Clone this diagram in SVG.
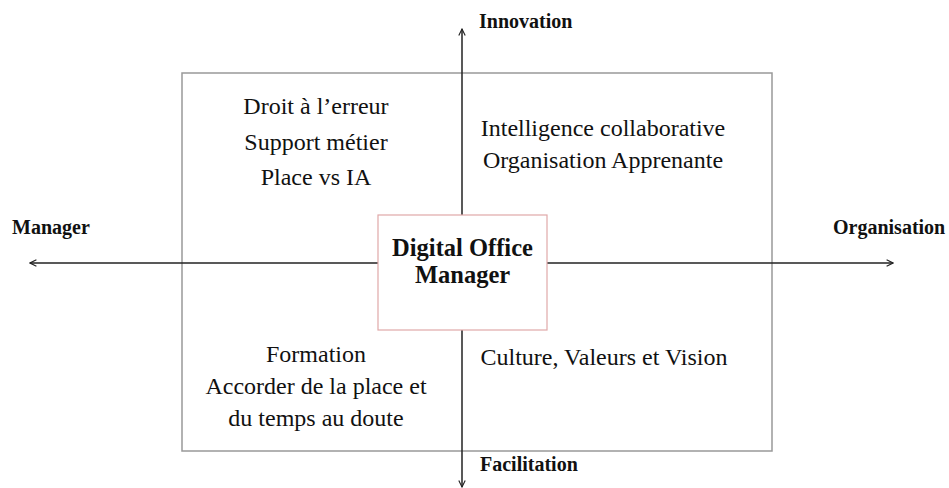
<svg xmlns="http://www.w3.org/2000/svg" width="949" height="488" viewBox="0 0 949 488">
<defs>
<style>
.q{font-family:"Liberation Serif","Times New Roman",serif;font-size:24px;fill:#111;text-anchor:middle}
.lab{font-family:"Liberation Serif","Times New Roman",serif;font-size:20px;font-weight:bold;fill:#111}
.ctr{font-family:"Liberation Serif","Times New Roman",serif;font-size:24.5px;font-weight:bold;fill:#111;text-anchor:middle}
.ax{stroke:#222;stroke-width:1.5;fill:none}
</style>
<marker id="ah" viewBox="0 0 10 10" refX="9" refY="5" markerWidth="8" markerHeight="8" markerUnits="userSpaceOnUse" orient="auto-start-reverse">
<path d="M1,1 L9,5 L1,9" fill="none" stroke="#222" stroke-width="1.4"/>
</marker>
</defs>
<rect width="949" height="488" fill="#fff"/>
<g id="frame">
<rect x="182" y="73" width="590" height="378" fill="none" stroke="#999" stroke-width="1.5"/>
</g>
<g id="connectors">
<line class="ax" x1="30" y1="263" x2="893" y2="263" marker-start="url(#ah)" marker-end="url(#ah)"/>
<line class="ax" x1="462" y1="29" x2="462" y2="487" stroke-width="2" marker-start="url(#ah)" marker-end="url(#ah)"/>
</g>
<g id="center">
<rect x="378" y="215" width="169" height="115" fill="#fff" stroke="#e0a8a8" stroke-width="1.2"/>
<text class="ctr" x="462.5" y="256">Digital Office</text>
<text class="ctr" x="462.5" y="283">Manager</text>
</g>
<g id="label-innovation"><text class="lab" x="479" y="28">Innovation</text></g>
<g id="label-manager"><text class="lab" x="12" y="234">Manager</text></g>
<g id="label-organisation"><text class="lab" x="833" y="234">Organisation</text></g>
<g id="label-facilitation"><text class="lab" x="480" y="471">Facilitation</text></g>
<g id="q-top-left">
<text class="q" x="316" y="114">Droit à l’erreur</text>
<text class="q" x="316" y="150">Support métier</text>
<text class="q" x="316" y="185">Place vs IA</text>
</g>
<g id="q-top-right">
<text class="q" x="603" y="136">Intelligence collaborative</text>
<text class="q" x="603" y="168">Organisation Apprenante</text>
</g>
<g id="q-bottom-left">
<text class="q" x="316" y="362">Formation</text>
<text class="q" x="316" y="394">Accorder de la place et</text>
<text class="q" x="316" y="426">du temps au doute</text>
</g>
<g id="q-bottom-right">
<text class="q" x="604" y="365">Culture, Valeurs et Vision</text>
</g>
</svg>
